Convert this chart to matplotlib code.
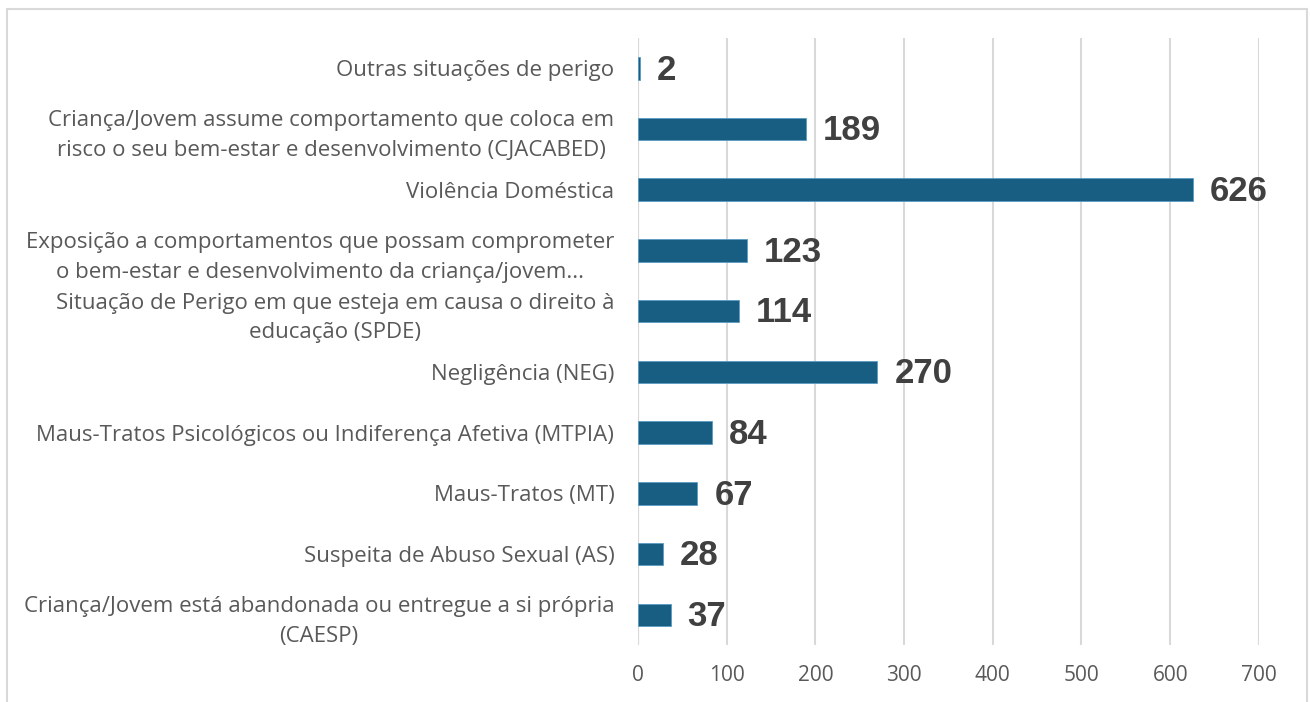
import matplotlib
matplotlib.use('Agg')
import matplotlib.pyplot as plt
from matplotlib.patches import Rectangle

# categorias (de baixo para cima)
categorias = [
    'Criança/Jovem está abandonada ou entregue a si própria\n(CAESP)',
    'Suspeita de Abuso Sexual (AS)',
    'Maus-Tratos (MT)',
    'Maus-Tratos Psicológicos ou Indiferença Afetiva (MTPIA)',
    'Negligência (NEG)',
    'Situação de Perigo em que esteja em causa o direito à\neducação (SPDE)',
    'Exposição a comportamentos que possam comprometer\no bem-estar e desenvolvimento da criança/jovem...',
    'Violência Doméstica',
    'Criança/Jovem assume comportamento que coloca em\nrisco o seu bem-estar e desenvolvimento (CJACABED)',
    'Outras situações de perigo',
]
valores = [37, 28, 67, 84, 270, 114, 123, 626, 189, 2]
ticks_x = [0, 100, 200, 300, 400, 500, 600, 700]

plt.rcParams['font.family'] = ['Open Sans', 'DejaVu Sans']

fig = plt.figure(figsize=(13.1, 7.02), dpi=100)
ax = fig.add_axes([0.487, 0.081, 0.474, 0.865])

pos = list(range(len(categorias)))
ax.barh(pos, valores, height=0.37, color='#175e82', edgecolor='#5b9cc2', linewidth=0.6, zorder=3)

for p, v in zip(pos, valores):
    ax.text(v + 19, p - 0.03, str(v), va='center', ha='left', fontsize=25,
            fontweight='bold', color='#404040', family=['Liberation Sans', 'DejaVu Sans'])

ax.set_xlim(0, 700)
ax.set_ylim(-0.5, len(categorias) - 0.5)
ax.set_xticks(ticks_x)
ax.set_yticks(pos)
ax.set_yticklabels(categorias, multialignment='center', linespacing=1.55)
ax.tick_params(axis='y', length=0, pad=17, labelsize=16, labelcolor='#595959')
ax.tick_params(axis='x', length=0, pad=14, labelsize=15, labelcolor='#595959')
ax.grid(axis='x', color='#d9d9d9', linewidth=1.5, zorder=0)
for s in ax.spines.values():
    s.set_visible(False)
ax.axvline(0, color='#d9d9d9', linewidth=1.5, zorder=1)

# bordo do gráfico
fig.patches.append(Rectangle((7 / 1310, -0.02), 1300 / 1310, 1 - 9 / 702 + 0.02,
                             transform=fig.transFigure, fill=False,
                             edgecolor='#d9d9d9', linewidth=1.5))

fig.savefig('out.png', dpi=100)
